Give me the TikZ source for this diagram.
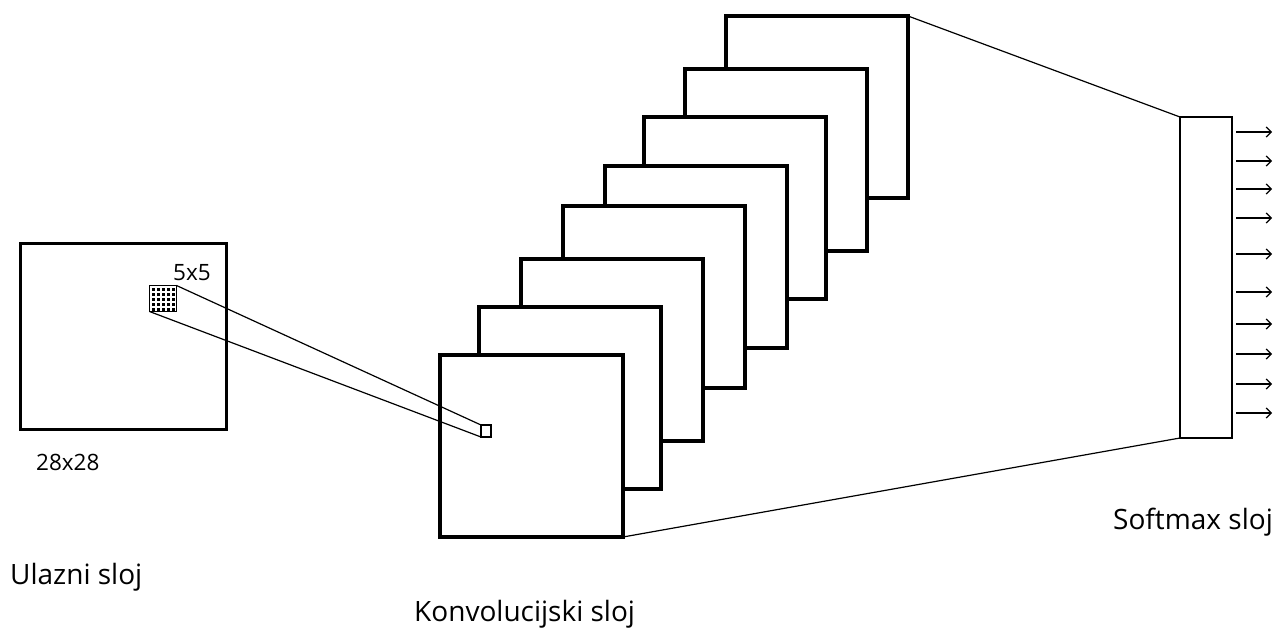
\documentclass[tikz,border=0pt]{standalone}
\usepackage{fontspec}
\setmainfont{Open Sans}
\usetikzlibrary{arrows.meta}
\begin{document}
\begin{tikzpicture}[x=1pt,y=-1pt,
  fmap/.style={draw=black, fill=white, line width=4.2pt, inner sep=0pt, outer sep=0pt,
    minimum width=182pt, minimum height=182pt, anchor=north west},
  inbox/.style={draw=black, fill=white, line width=3.2pt, inner sep=0pt, outer sep=0pt, anchor=north west},
  thinbox/.style={draw=black, fill=white, line width=1.3pt, inner sep=0pt, outer sep=0pt},
  thin/.style={draw=black, line width=1.2pt},
  outarrow/.style={draw=black, line width=1.2pt, -{Straight Barb[length=5pt,width=10pt,line width=1.2pt]}},
  lbl/.style={inner sep=0pt, anchor=base west, font=\fontsize{28}{32}\selectfont},
  slbl/.style={inner sep=0pt, anchor=base west, font=\fontsize{22.5}{26}\selectfont}
]
\useasboundingbox[fill=white] (0,0) rectangle (1275,632);

% input layer
\node[inbox, minimum width=206pt, minimum height=186pt] (in) at (20.5,243.5) {};
\node[thinbox, anchor=north west, minimum width=27pt, minimum height=26pt] (patch) at (149.5,285.5) {};
\foreach \i in {0,...,4}{
  \foreach \j in {0,...,4}{
    \fill[black] (152.3+5*\i,287.8+5*\j) rectangle ++(3.1,3.1);
  }
}
\node[slbl] (t55) at (173,280) {5x5};
\node[slbl] (t28) at (36,470) {28x28};

% convolution layer (back to front)
\node[fmap] (f8) at (726,16) {};
\node[fmap] (f7) at (685,69) {};
\node[fmap] (f6) at (644,117) {};
\node[fmap] (f5) at (605,166) {};
\node[fmap] (f4) at (563,206) {};
\node[fmap] (f3) at (521,259) {};
\node[fmap] (f2) at (479,307) {};
\node[fmap, minimum width=183pt] (f1) at (440,355) {};

% receptive field
\node[thinbox, minimum width=10pt, minimum height=12pt] (rf) at (486,431) {};
\draw[thin] (patch.north east) -- (rf.north west);
\draw[thin] (patch.south west) -- (rf.south west);

% softmax layer
\node[thinbox, anchor=north west, minimum width=52pt, minimum height=321pt] (sm) at (1180,117) {};
\draw[thin] (f8.north east) -- (sm.north west);
\draw[thin] (f1.south east) -- (sm.south west);

\foreach \k/\y in {1/132,2/161,3/189,4/218,5/254,6/292,7/324,8/354,9/384,10/413}{
  \coordinate (o\k) at (1272,\y);
  \draw[outarrow] ([xshift=4pt]sm.east |- o\k) -- (o\k);
}

% labels
\node[lbl] (tsm) at (1113,529) {Softmax sloj};
\node[lbl] (tin) at (10,584) {Ulazni sloj};
\node[lbl] (tcv) at (414,621) {Konvolucijski sloj};
\end{tikzpicture}
\end{document}
